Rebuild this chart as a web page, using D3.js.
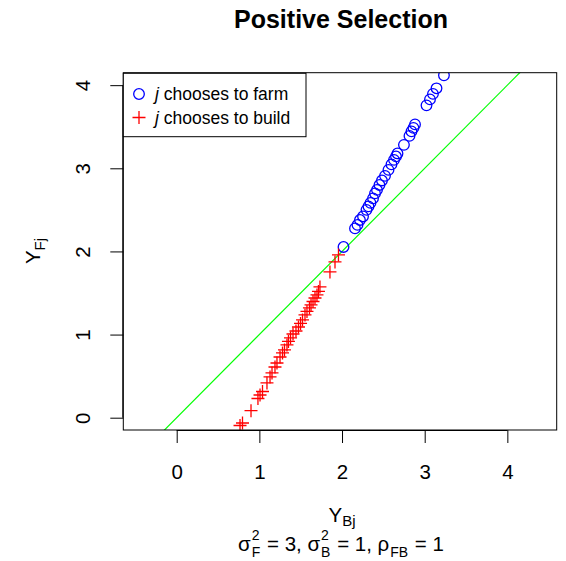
<!DOCTYPE html>
<html>
<head>
<meta charset="utf-8">
<script src="https://cdn.jsdelivr.net/npm/d3@7"></script>
<style>
body { margin: 0; background: #fff; }
text { font-family: "Liberation Sans", Arial, Helvetica, sans-serif; fill: #000; }
</style>
</head>
<body>
<svg id="chart" width="566" height="561"></svg>
<script>
// j chooses to farm (blue circles)
const farmB = [2.018, 2.157, 2.187, 2.217, 2.254, 2.296, 2.320, 2.344, 2.375, 2.399, 2.423, 2.453, 2.483, 2.520,
	2.562, 2.598, 2.629, 2.653, 2.671, 2.749, 2.816, 2.840, 2.864, 2.883, 3.022, 3.064, 3.100, 3.143, 3.233]
const farmF = [2.054, 2.277, 2.319, 2.379, 2.421, 2.500, 2.542, 2.584, 2.638, 2.698, 2.740, 2.800, 2.854, 2.909,
	2.981, 3.047, 3.101, 3.143, 3.179, 3.282, 3.390, 3.444, 3.486, 3.528, 3.757, 3.829, 3.895, 3.962, 4.118]

// j chooses to build (red crosses)
const buildB = [0.766, 0.796, 0.899, 0.983, 1.008, 1.038, 1.092, 1.129, 1.153, 1.189, 1.213, 1.250, 1.280, 1.304,
	1.334, 1.352, 1.377, 1.407, 1.443, 1.473, 1.498, 1.522, 1.552, 1.576, 1.606, 1.625, 1.649, 1.673, 1.697,
	1.715, 1.733, 1.854, 1.915, 1.957]
const buildF = [-0.094, -0.064, 0.084, 0.231, 0.273, 0.315, 0.418, 0.490, 0.538, 0.610, 0.658, 0.730, 0.779, 0.815,
	0.875, 0.917, 0.959, 1.007, 1.043, 1.091, 1.134, 1.176, 1.236, 1.278, 1.320, 1.356, 1.398, 1.440, 1.477,
	1.519, 1.573, 1.753, 1.874, 1.958]

const xTicks = [0, 1, 2, 3, 4]
const yTicks = [0, 1, 2, 3, 4]
const legendLabels = ["chooses to farm", "chooses to build"]

const svg = d3.select("#chart")
const pLeft = 123.3, pRight = 556.7, pTop = 72.7, pBottom = 430
const base = 20.5
const tick = 13

let x = d3.scaleLinear().domain([-0.646, 4.597]).range([pLeft, pRight])
let y = d3.scaleLinear().domain([-0.148, 4.150]).range([pBottom, pTop])

svg.append("defs").append("clipPath")
	.attr("id", "plotclip")
	.append("rect")
	.attr("x", pLeft).attr("y", pTop)
	.attr("width", pRight - pLeft).attr("height", pBottom - pTop)

let plot = svg.append("g").attr("clip-path", "url(#plotclip)")

// 45 degree line
plot.append("line")
	.attr("x1", x(-1)).attr("y1", y(-1))
	.attr("x2", x(5)).attr("y2", y(5))
	.attr("stroke", "#00ff00")
	.attr("stroke-width", 1.2)

plot.selectAll("circle.farm")
	.data(d3.range(farmB.length))
	.enter()
	.append("circle")
		.attr("class", "farm")
		.attr("cx", i => x(farmB[i]))
		.attr("cy", i => y(farmF[i]))
		.attr("r", 5.3)
		.attr("fill", "none")
		.attr("stroke", "#0000ff")
		.attr("stroke-width", 1.3)

plot.selectAll("path.build")
	.data(d3.range(buildB.length))
	.enter()
	.append("path")
		.attr("class", "build")
		.attr("transform", i => "translate(" + x(buildB[i]) + "," + y(buildF[i]) + ")")
		.attr("d", "M-6.5,0H6.5M0,-6.5V6.5")
		.attr("stroke", "#ff0000")
		.attr("stroke-width", 1.3)

// box
svg.append("rect")
	.attr("x", pLeft).attr("y", pTop)
	.attr("width", pRight - pLeft).attr("height", pBottom - pTop)
	.attr("fill", "none")
	.attr("stroke", "#000")
	.attr("stroke-width", 1)

// axes, R style
let xAxis = d3.axisBottom(x).tickValues(xTicks).tickFormat(d3.format("d")).tickSizeInner(tick).tickSizeOuter(0)
let xG = svg.append("g")
	.attr("transform", "translate(0," + pBottom + ")")
	.call(xAxis)
xG.select(".domain").attr("d", "M" + x(xTicks[0]) + ",0.5H" + x(xTicks[xTicks.length - 1]))
xG.selectAll("text")
	.attr("dy", null)
	.attr("y", 49)
	.style("font-size", base + "px")
	.style("font-family", "Liberation Sans, Arial, sans-serif")

let yAxis = d3.axisLeft(y).tickValues(yTicks).tickFormat(d3.format("d")).tickSizeInner(tick).tickSizeOuter(0)
let yG = svg.append("g")
	.attr("transform", "translate(" + pLeft + ",0)")
	.call(yAxis)
yG.select(".domain").attr("d", "M-0.5," + y(yTicks[0]) + "V" + y(yTicks[yTicks.length - 1]))
yG.selectAll("text")
	.attr("x", null).attr("dy", null)
	.attr("text-anchor", "middle")
	.attr("transform", "translate(-33,0) rotate(-90)")
	.style("font-size", base + "px")
	.style("font-family", "Liberation Sans, Arial, sans-serif")
xG.selectAll("line, path").attr("stroke", "#000")
yG.selectAll("line, path").attr("stroke", "#000")

// title
svg.append("text")
	.attr("x", 341)
	.attr("y", 28)
	.attr("text-anchor", "middle")
	.style("font-size", "25px")
	.style("font-weight", "bold")
	.text("Positive Selection")

// x label
let xl = svg.append("text")
	.attr("x", 342)
	.attr("y", 522)
	.attr("text-anchor", "middle")
	.style("font-size", base + "px")
xl.append("tspan").text("Y")
xl.append("tspan").attr("dy", 4).style("font-size", "15px").text("Bj")

// y label
let yl = svg.append("text")
	.attr("transform", "translate(40,251) rotate(-90)")
	.attr("text-anchor", "middle")
	.style("font-size", base + "px")
yl.append("tspan").text("Y")
yl.append("tspan").attr("dy", 5).style("font-size", "15px").text("Fj")

// subtitle with stacked super/subscripts
let sub = svg.append("g")
let pieces = [
	{ t: "σ" }, { sup: "2", sub: "F" }, { t: " = 3, " },
	{ t: "σ" }, { sup: "2", sub: "B" }, { t: " = 1, " },
	{ t: "ρ" }, { sub: "FB" }, { t: " = 1" }
]
let cx = 0
pieces.forEach(p => {
	if (p.t) {
		let el = sub.append("text").attr("x", cx).attr("y", 0)
			.style("font-size", base + "px").style("white-space", "pre").text(p.t)
		cx += el.node().getComputedTextLength()
	} else {
		let w = 0
		if (p.sup) {
			let s = sub.append("text").attr("x", cx + 1).attr("y", -11).style("font-size", "14px").text(p.sup)
			w = Math.max(w, s.node().getComputedTextLength())
		}
		let b = sub.append("text").attr("x", cx + 1).attr("y", 6).style("font-size", "14px").text(p.sub)
		w = Math.max(w, b.node().getComputedTextLength())
		cx += w + 2
	}
})
sub.attr("transform", "translate(" + (341 - cx / 2) + ",551)")

// legend
let legend = svg.append("g")
legend.append("rect")
	.attr("x", pLeft).attr("y", 73.3)
	.attr("width", 306 - pLeft).attr("height", 136.7 - 73.3)
	.attr("fill", "#fff")
	.attr("stroke", "#000")
	.attr("stroke-width", 1)
legend.append("circle")
	.attr("cx", 139).attr("cy", 94).attr("r", 5.3)
	.attr("fill", "none").attr("stroke", "#0000ff").attr("stroke-width", 1.3)
legend.append("path")
	.attr("transform", "translate(139,117.5)")
	.attr("d", "M-6.5,0H6.5M0,-6.5V6.5")
	.attr("stroke", "#ff0000").attr("stroke-width", 1.3)
legend.selectAll("text.leg")
	.data(legendLabels)
	.enter()
	.append("text")
		.attr("class", "leg")
		.attr("x", 155)
		.attr("y", (d, i) => 100 + i * 23.5)
		.style("font-size", "17.5px")
		.each(function (d) {
			let t = d3.select(this)
			t.append("tspan").style("font-style", "italic").text("j")
			t.append("tspan").text(" " + d)
		})
</script>
</body>
</html>
